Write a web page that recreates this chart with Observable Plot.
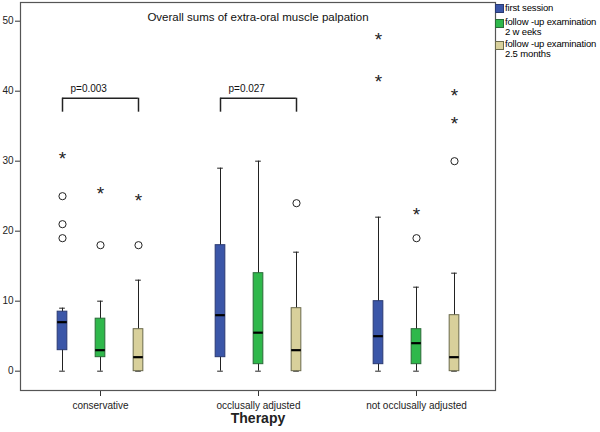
<!DOCTYPE html>
<html>
<head>
<meta charset="utf-8">
<script src="https://cdn.jsdelivr.net/npm/d3@7"></script>
<script src="https://cdn.jsdelivr.net/npm/@observablehq/plot@0.6"></script>
<style>
  body { margin: 0; background: #fff; font-family: "Liberation Sans", Arial, sans-serif; }
  #wrap { position: relative; width: 600px; height: 432px; }
  .leg { position: absolute; font-size: 9.5px; letter-spacing: -0.15px; line-height: 10px; color: #000; white-space: nowrap; }
  .sw { position: absolute; width: 7px; height: 7px; border: 1px solid #333; }
</style>
</head>
<body>
<div id="wrap"></div>
<script>
const title = "Overall sums of extra-oral muscle palpation";
const therapies = ["conservative", "occlusally adjusted", "not occlusally adjusted"];
const sessions = ["first session", "follow -up examination 2 w eeks", "follow -up examination 2.5 months"];
const sessionLines = [["first session"], ["follow -up examination", "2 w eeks"], ["follow -up examination", "2.5 months"]];
const colors = ["#3b56a8", "#2fb84b", "#d8d09b"];
const strokes = ["#2a3a72", "#2a6a38", "#6b6a4c"];
const yTicks = [0, 10, 20, 30, 40, 50];

// per therapy (rows) x session (columns)
const whiskerLow  = [[0, 0, 0], [0, 0, 0], [0, 0, 0]];
const q1          = [[3, 2, 0], [2, 1, 0], [1, 1, 0]];
const median      = [[7, 3, 2], [8, 5.5, 3], [5, 4, 2]];
const q3          = [[8.5, 7.5, 6], [18, 14, 9], [10, 6, 8]];
const whiskerHigh = [[9, 10, 13], [29, 30, 17], [22, 12, 14]];

// outliers: [therapy index, session index, value]
const circles = [[0, 0, 19], [0, 0, 21], [0, 0, 25], [0, 1, 18], [0, 2, 18], [1, 2, 24], [2, 1, 19], [2, 2, 30]];
const stars = [[0, 0, 31], [0, 1, 26], [0, 2, 25], [2, 0, 42], [2, 0, 48], [2, 1, 23], [2, 2, 36], [2, 2, 40]];

const brackets = [
  {therapy: "conservative", label: "p=0.003", top: 39, bottom: 37},
  {therapy: "occlusally adjusted", label: "p=0.027", top: 39, bottom: 37}
];

const boxes = [];
therapies.forEach((t, i) => sessions.forEach((s, j) => boxes.push({
  therapy: t, session: j, lo: whiskerLow[i][j], q1: q1[i][j], med: median[i][j], q3: q3[i][j], hi: whiskerHigh[i][j]
})));
const circ = circles.map(([i, j, v]) => ({therapy: therapies[i], session: j, value: v}));
const star = stars.map(([i, j, v]) => ({therapy: therapies[i], session: j, value: v}));

const W = 600, H = 432;
const mL = 20, mR = 105, mT = 2, mB = 42;
const band = (W - mL - mR) / 3;
const off = 38;
const boxInset = (band - 10) / 2;
const capInset = (band - 6) / 2;
const brInset = (band - 2 * off) / 2;

const marks = [];
sessions.forEach((s, j) => {
  const dx = (j - 1) * off;
  const b = boxes.filter(d => d.session === j);
  marks.push(
    Plot.ruleX(b, {x: "therapy", y1: "lo", y2: "hi", dx, stroke: "#222", strokeWidth: 1}),
    Plot.tickY(b, {x: "therapy", y: "lo", dx, insetLeft: capInset, insetRight: capInset, stroke: "#222"}),
    Plot.tickY(b, {x: "therapy", y: "hi", dx, insetLeft: capInset, insetRight: capInset, stroke: "#222"}),
    Plot.barY(b, {x: "therapy", y1: "q1", y2: "q3", dx, insetLeft: boxInset, insetRight: boxInset, fill: colors[j], stroke: strokes[j], strokeWidth: 1}),
    Plot.tickY(b, {x: "therapy", y: "med", dx, insetLeft: boxInset, insetRight: boxInset, stroke: "#000", strokeWidth: 2.2}),
    Plot.dot(circ.filter(d => d.session === j), {x: "therapy", y: "value", dx, r: 3.6, stroke: "#222", fill: "white", strokeWidth: 1}),
    Plot.text(star.filter(d => d.session === j), {x: "therapy", y: "value", dx, text: () => "*", fontSize: 19, dy: 5, fill: "#222"})
  );
});

const plot = Plot.plot({
  width: W, height: H,
  marginLeft: mL, marginRight: mR, marginTop: mT, marginBottom: mB,
  style: {fontFamily: "'Liberation Sans', Arial, sans-serif", fontSize: "10px", background: "white", color: "#222"},
  x: {domain: therapies, type: "band", paddingInner: 0, paddingOuter: 0, axis: null},
  y: {domain: [-2.76, 52.67], axis: null},
  marks: [
    Plot.axisY(yTicks, {tickSize: 5, tickPadding: 2, label: null, fontSize: 10, stroke: "#333", fill: "#222"}),
    Plot.axisX(therapies, {tickSize: 6, tickPadding: 5, label: null, fontSize: 10, stroke: "#333", fill: "#222"}),
    Plot.frame({stroke: "#555", strokeWidth: 1.2}),
    Plot.text([title], {frameAnchor: "top", dy: 10, fontSize: 11.5, fill: "#111"}),
    Plot.text(["Therapy"], {frameAnchor: "bottom", dy: 32, fontSize: 14, fontWeight: "bold", fill: "#222"}),
    ...marks,
    Plot.tickY(brackets, {x: "therapy", y: "top", insetLeft: brInset, insetRight: brInset, stroke: "#222", strokeWidth: 1.5}),
    Plot.ruleX(brackets, {x: "therapy", y1: "bottom", y2: "top", dx: -off, stroke: "#222", strokeWidth: 1.5}),
    Plot.ruleX(brackets, {x: "therapy", y1: "bottom", y2: "top", dx: off, stroke: "#222", strokeWidth: 1.5}),
    Plot.text(brackets, {x: "therapy", y: 40.4, text: "label", dx: -off + 8, textAnchor: "start", fontSize: 10, fill: "#111"})
  ]
});

const wrap = document.getElementById("wrap");
wrap.appendChild(plot);

// legend
const legTops = [4, 18, 40];
sessionLines.forEach((lines, j) => {
  const sw = document.createElement("div");
  sw.className = "sw";
  sw.style.left = "495px";
  sw.style.top = (legTops[j] + (lines.length > 1 ? 1 : 0)) + "px";
  sw.style.background = colors[j];
  sw.style.borderColor = strokes[j];
  wrap.appendChild(sw);
  const tx = document.createElement("div");
  tx.className = "leg";
  tx.style.left = "505px";
  tx.style.top = (legTops[j] - 1) + "px";
  tx.innerHTML = lines.join("<br>");
  wrap.appendChild(tx);
});
</script>
</body>
</html>
